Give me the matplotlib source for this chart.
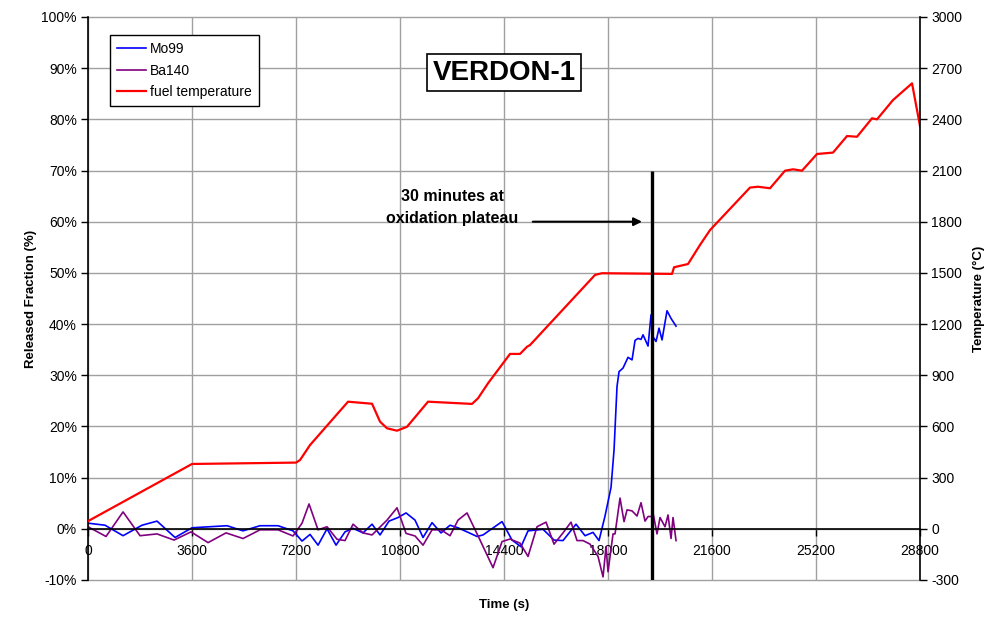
import matplotlib
matplotlib.use('Agg')
import matplotlib.pyplot as plt
from matplotlib.ticker import FuncFormatter
import numpy

plt.rcParams['font.family'] = ['Liberation Sans', 'DejaVu Sans']
plt.rcParams['axes.unicode_minus'] = False

# Mo99 released fraction (%)
mo99_time = [0, 588, 1212, 1869, 2388, 3012, 3600, 4812, 5365, 5954, 6577, 7096,
             7408, 7685, 7962, 8273, 8585, 8896, 9173, 9519, 9831, 10108,
             10419, 10731, 11008, 11319, 11596, 11908, 12219, 12531, 12808, 13119,
             13465, 13673, 14331, 14677, 14988, 15231, 15750, 16131, 16442, 16892,
             17204, 17481, 17688, 17896, 18104, 18208, 18311, 18381, 18519, 18692,
             18831, 18935, 19038, 19142, 19212, 19385, 19488, 19558, 19662, 19765,
             19869, 20042, 20181, 20354]
mo99_frac = [1.1, 0.7, -1.35, 0.7, 1.5, -1.7, 0.2, 0.6, -0.4, 0.6, 0.6, -0.4,
             -2.4, -1.1, -3.2, 0.0, -3.2, -0.6, 0.1, -0.8, 0.9, -1.2,
             1.5, 2.2, 3.1, 1.7, -1.7, 1.2, -0.8, 0.7, 0.2, -0.6,
             -1.5, -1.2, 1.4, -2.2, -3.5, -0.4, -0.1, -2.2, -2.3, 0.9,
             -1.35, -0.7, -2.3, 2.5, 8.1, 15.4, 27.8, 30.7, 31.4, 33.5,
             33.0, 36.8, 37.2, 37.0, 37.9, 35.7, 41.8, 37.5, 36.6, 39.2,
             36.9, 42.6, 41.1, 39.6]

# Ba140 released fraction (%)
ba140_time = [0, 623, 1212, 1800, 2388, 2977, 3565, 4154, 4777, 5365,
              5954, 6577, 7096, 7408, 7650, 7962, 8273, 8619, 8896, 9173,
              9519, 9831, 10350, 10696, 11008, 11319, 11596, 11908, 12219, 12531,
              12808, 13119, 13569, 14019, 14331, 14608, 14954, 15231, 15542, 15854,
              16131, 16442, 16719, 16927, 17135, 17377, 17654, 17827, 17931, 18000,
              18173, 18242, 18415, 18554, 18658, 18831, 19004, 19142, 19281, 19385,
              19523, 19558, 19696, 19800, 19973, 20077, 20181, 20250, 20354]
ba140_frac = [0.4, -1.5, 3.3, -1.35, -1.0, -2.2, -0.6, -2.7, -0.8, -1.9,
              -0.2, -0.2, -1.4, 1.1, 4.85, -0.2, 0.4, -2.05, -2.3, 0.9,
              -0.8, -1.2, 1.7, 4.1, -0.9, -1.4, -3.2, -0.2, -0.2, -1.35,
              1.7, 3.1, -2.2, -7.6, -2.5, -2.0, -2.8, -5.4, 0.4, 1.3,
              -3.0, -0.8, 1.3, -2.3, -2.3, -3.0, -5.4, -9.4, -3.5, -8.4,
              -1.0, -1.0, 6.0, 1.4, 3.7, 3.5, 2.5, 5.1, 1.5, 2.4,
              2.4, 3.1, -1.0, 2.2, 0.4, 2.7, -1.9, 2.2, -2.3]

# fuel temperature (C)
temp_time = [0, 3600, 7200, 7338, 7685, 9000, 9831, 10108, 10350, 10696, 11042,
             11769, 13292, 13500, 13846, 14608, 14954, 15196, 15300, 17550, 17792,
             20215, 20285, 20769, 21185, 21531, 22915, 23192, 23608, 24127, 24404,
             24715, 25235, 25788, 26273, 26619, 27138, 27312, 27865, 28523, 28800]
temp_val = [45, 380, 388, 403, 491, 745, 733, 628, 589, 575, 598,
            745, 732, 765, 853, 1025, 1025, 1067, 1077, 1488, 1498,
            1494, 1533, 1552, 1664, 1751, 2000, 2005, 1996, 2099, 2107,
            2099, 2197, 2205, 2302, 2298, 2406, 2400, 2513, 2611, 2360]

plateau_end = 19523  # s, end of 30 min oxidation plateau

fig = plt.figure(figsize=(9.88, 6.17), dpi=100)
ax = fig.add_axes([0.0891, 0.06, 0.8421, 0.9125])
ax2 = ax.twinx()

ax.set_xlim(0, 28800)
ax.set_ylim(-10, 100)
ax2.set_ylim(-300, 3000)
ax.set_xticks(numpy.arange(0, 28801, 3600))
ax.set_yticks(numpy.arange(-10, 101, 10))
ax2.set_yticks(numpy.arange(-300, 3001, 300))
ax.yaxis.set_major_formatter(FuncFormatter(lambda v, p: f'{v:.0f}%'))

ax.grid(True, color='#a0a0a0', linewidth=1.0)
ax.set_axisbelow(True)
for gl in ax.get_ygridlines() + ax.get_xgridlines():
    gl.set_clip_on(False)

for s in ['top', 'right']:
    ax.spines[s].set_visible(False)
for s in ['top', 'left', 'bottom']:
    ax2.spines[s].set_visible(False)
ax.spines['bottom'].set_position(('data', 0))
ax.spines['left'].set_linewidth(1.2)
ax.spines['bottom'].set_linewidth(1.2)
ax2.spines['right'].set_linewidth(1.2)

ax.tick_params(axis='x', direction='out', length=5, width=1, labelsize=10, pad=6)
ax.tick_params(axis='y', direction='out', length=5, width=1, labelsize=10, pad=3)
ax2.tick_params(axis='y', direction='out', length=5, width=1, labelsize=10, pad=3)

l1, = ax.plot(mo99_time, mo99_frac, color='#0000ff', linewidth=1.2, label='Mo99')
l2, = ax.plot(ba140_time, ba140_frac, color='#800080', linewidth=1.2, label='Ba140')
l3, = ax2.plot(temp_time, temp_val, color='#ff0000', linewidth=1.6, label='fuel temperature')

ax2.vlines(plateau_end, -300, 2100, color='black', linewidth=2.4, zorder=5)
ax2.annotate('', xy=(plateau_end - 250, 1800), xytext=(15300, 1800),
             arrowprops=dict(arrowstyle='-|>', color='black', lw=1.5, mutation_scale=12))
ax2.text(12600, 1882, '30 minutes at\noxidation plateau', ha='center', va='center',
         fontsize=11.5, fontweight='bold', linespacing=1.6)
ax2.text(14400, 2673, 'VERDON-1', ha='center', va='center', fontsize=20, fontweight='bold',
         bbox=dict(boxstyle='square,pad=0.2', facecolor='white', edgecolor='black', linewidth=1.2))

leg = ax2.legend(handles=[l1, l2, l3], loc='upper left', bbox_to_anchor=(0.0264, 0.968),
                 fontsize=10, frameon=True, fancybox=False, framealpha=1,
                 edgecolor='black', handlelength=2.1, handletextpad=0.3,
                 labelspacing=0.55, borderpad=0.5, borderaxespad=0)
leg.get_frame().set_linewidth(1.0)

ax.set_ylabel('Released Fraction (%)', fontsize=9.5, fontweight='bold', labelpad=3)
ax2.set_ylabel('Temperature (°C)', fontsize=9.5, fontweight='bold', labelpad=8)
fig.text(0.51, 0.02, 'Time (s)', ha='center', va='center', fontsize=9.5, fontweight='bold')

fig.savefig('out.png', dpi=100)
